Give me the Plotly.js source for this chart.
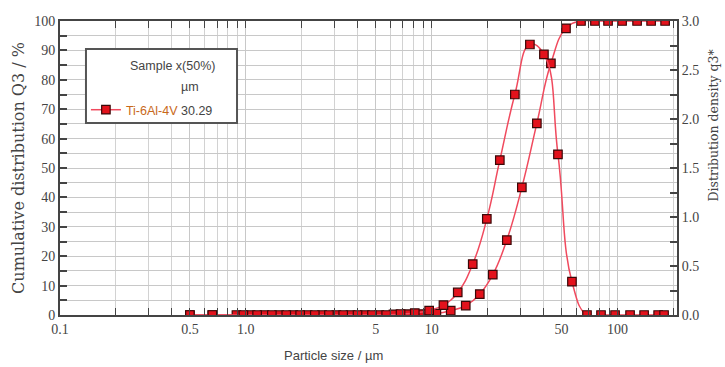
<!DOCTYPE html>
<html>
<head>
<meta charset="utf-8">
<script src="https://cdn.plot.ly/plotly-3.0.1.min.js"></script>
<style>html,body{margin:0;padding:0;background:#fff}#chart{width:725px;height:367px}</style>
</head>
<body>
<div id="chart"></div>
<script>
// Cumulative distribution Q3 (%) vs particle size (µm)
const sizeCum = [0.5, 0.66, 0.89, 1.06, 1.26, 1.51, 1.8, 2.15, 2.57, 3.07, 3.66, 4.37, 5.22, 6.23, 7.44, 8.88, 10.6, 12.66, 15.25, 18.15, 21.32, 25.37, 30.56, 36.8, 43.8, 52.8, 63.6, 75.6, 88.9, 105.8, 127.4, 151.6, 180.3];
const cumQ3 = [0, 0, 0, 0, 0, 0, 0, 0, 0, 0, 0, 0, 0, 0.2, 0.3, 0.3, 0.5, 1.5, 3.2, 7.1, 13.7, 25.5, 43.4, 65.2, 85.6, 97.5, 100, 100, 100, 100, 100, 100, 100];
// Distribution density q3*
const sizeDen = [0.5, 0.66, 0.97, 1.15, 1.38, 1.65, 1.96, 2.35, 2.8, 3.34, 3.99, 4.77, 5.69, 6.8, 8.11, 9.69, 11.57, 13.81, 16.63, 19.8, 23.26, 28.02, 33.76, 40.17, 47.8, 56.85, 68.5, 81.5, 97, 116.8, 139, 165.4, 178];
const denQ3 = [0, 0, 0, 0, 0, 0, 0, 0, 0, 0, 0, 0, 0, 0.01, 0.02, 0.045, 0.10, 0.23, 0.52, 0.98, 1.58, 2.25, 2.76, 2.66, 1.64, 0.34, 0, 0, 0, 0, 0, 0, 0];
// Tick labels
const xTickVals = [0.1, 0.5, 1, 5, 10, 50, 100];
const xTickText = ['0.1', '0.5', '1.0', '5', '10', '50', '100'];
const sampleName = 'Ti-6Al-4V';
const x50 = '30.29';

const serif = 'Liberation Serif, Times New Roman, serif';
const wideSerif = 'DejaVu Serif, serif';
const sans = 'Liberation Sans, Arial, sans-serif';
const lineCol = '#f04a5e';
const marker = {symbol: 'square', size: 8.5, color: '#e3121c', line: {color: '#3a0808', width: 1.2}};

const traces = [
  {x: sizeCum, y: cumQ3, type: 'scatter', mode: 'lines+markers', yaxis: 'y',
   line: {color: lineCol, width: 1.5, shape: 'spline', smoothing: 1.3}, marker: marker,
   name: "<span style='color:#c8681a'>" + sampleName + "</span><span style='color:#444'> " + x50 + "</span>", showlegend: true},
  {x: sizeDen, y: denQ3, type: 'scatter', mode: 'lines+markers', yaxis: 'y2',
   line: {color: lineCol, width: 1.5, shape: 'spline', smoothing: 1.3}, marker: marker,
   showlegend: false}
];

const gridCol = '#c8c8c8';
const axCol = '#444';
const layout = {
  width: 725, height: 367,
  margin: {l: 60, r: 48, t: 21, b: 52},
  paper_bgcolor: '#fff', plot_bgcolor: '#fff',
  showlegend: true,
  xaxis: {
    type: 'log', range: [-1, 2.32],
    tickvals: xTickVals, ticktext: xTickText,
    ticks: 'inside', ticklen: 7, tickcolor: axCol, tickwidth: 1,
    showline: true, linecolor: axCol, linewidth: 2, mirror: 'allticks',
    showgrid: true, gridcolor: gridCol, gridwidth: 1, zeroline: false,
    minor: {dtick: 'D1', ticks: 'inside', ticklen: 6, tickcolor: axCol, showgrid: true, gridcolor: '#d2d2d2', gridwidth: 1},
    tickfont: {family: serif, size: 14, color: '#444'}
  },
  yaxis: {
    range: [0, 100], dtick: 10,
    ticks: 'inside', ticklen: 7, tickcolor: axCol, tickwidth: 2,
    showline: true, linecolor: axCol, linewidth: 2,
    showgrid: true, gridcolor: gridCol, zeroline: false,
    minor: {dtick: 5, ticks: 'inside', ticklen: 7, tickcolor: axCol, showgrid: true, gridcolor: gridCol},
    tickfont: {family: serif, size: 14, color: '#444'},
    title: {text: 'Cumulative distribution Q3 / %', font: {family: wideSerif, size: 16, color: '#444'}, standoff: 6}
  },
  yaxis2: {
    overlaying: 'y', side: 'right', range: [0, 3], dtick: 0.5, tickformat: '.1f',
    ticks: 'inside', ticklen: 7, tickcolor: axCol, tickwidth: 2,
    showline: true, linecolor: axCol, linewidth: 2,
    showgrid: false, zeroline: false,
    minor: {dtick: 0.25, ticks: 'inside', ticklen: 7, tickcolor: axCol},
    tickfont: {family: serif, size: 14, color: '#444'}
  },
  legend: {x: 0.042, y: 0.697, xanchor: 'left', yanchor: 'middle', bgcolor: 'rgba(0,0,0,0)',
           borderwidth: 0, font: {family: sans, size: 12.5, color: '#444'}, itemwidth: 30},
  shapes: [
    {type: 'rect', xref: 'paper', yref: 'paper', x0: 0.0421, x1: 0.2869, y0: 0.653, y1: 0.905,
     line: {color: '#555', width: 2}, fillcolor: '#fff', layer: 'above'}
  ],
  annotations: [
    {text: 'Sample x(50%)', xref: 'paper', yref: 'paper', x: 0.183, y: 0.847, xanchor: 'center', yanchor: 'middle', showarrow: false,
     font: {family: sans, size: 12.5, color: '#444'}},
    {text: 'µm', xref: 'paper', yref: 'paper', x: 0.2107, y: 0.7755, xanchor: 'center', yanchor: 'middle', showarrow: false,
     font: {family: sans, size: 12.5, color: '#444'}},
    {text: 'Distribution density q3*', xref: 'paper', yref: 'paper', x: 1.0585, y: 0.645, xanchor: 'center', yanchor: 'middle', textangle: -90,
     showarrow: false, font: {family: wideSerif, size: 12.5, color: '#444'}},
    {text: 'Particle size / µm', xref: 'paper', yref: 'paper', x: 0.4425, y: -0.139, xanchor: 'center', yanchor: 'middle', showarrow: false,
     font: {family: sans, size: 13, color: '#444'}}
  ]
};

Plotly.newPlot('chart', traces, layout, {displayModeBar: false, staticPlot: true});
</script>
</body>
</html>
